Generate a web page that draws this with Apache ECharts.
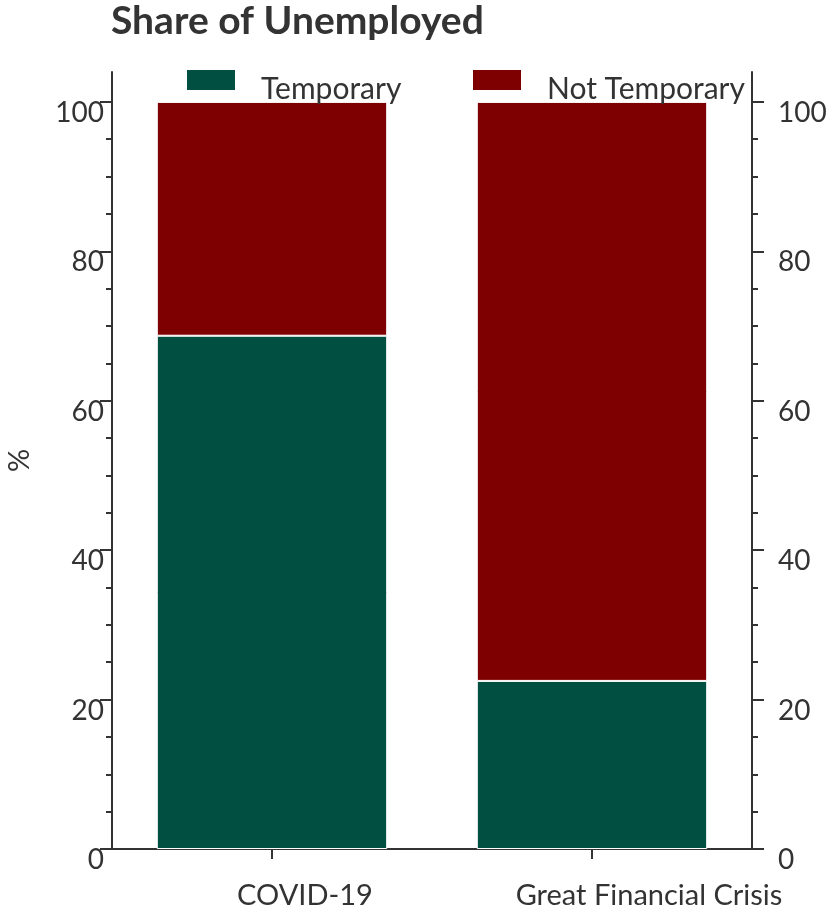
<!DOCTYPE html>
<html>
<head>
<meta charset="utf-8">
<script src="https://cdn.jsdelivr.net/npm/echarts@6/dist/echarts.min.js"></script>
<style>
  html, body { margin: 0; padding: 0; background: #fff; }
  #chart { width: 827px; height: 912px; }
</style>
</head>
<body>
<div id="chart"></div>
<script>
// data
const categories = ['COVID-19', 'Great Financial Crisis']
const temporary = [68.7, 22.5]
const notTemporary = [31.3, 77.5]
const majorTicks = [0, 20, 40, 60, 80, 100]
const minorTicks = [0, 5, 10, 15, 20, 25, 30, 35, 40, 45, 50, 55, 60, 65, 70, 75, 80, 85, 90, 95, 100]

const FONT = 'Lato'
const TXT = '#333333'
const AXIS = '#333333'
const GREEN = '#014f41'
const RED = '#7f0000'

const chart = echarts.init(document.getElementById('chart'), null, { renderer: 'canvas' })

// one y axis = line + labels + long ticks, a second one on the same side = short ticks
function yAxisPair(side) {
  const left = side === 'left'
  return [
    {
      type: 'value',
      position: side,
      min: 0,
      max: 104,
      interval: 20,
      name: left ? '%' : '',
      nameLocation: 'middle',
      nameGap: 78,
      nameRotate: 90,
      nameTextStyle: { fontFamily: FONT, fontSize: 29, color: TXT },
      axisLine: { show: true, lineStyle: { color: AXIS, width: 2 } },
      axisTick: { show: true, length: 12, customValues: majorTicks, lineStyle: { color: AXIS, width: 2 } },
      axisLabel: {
        show: true,
        customValues: majorTicks,
        margin: left ? 8 : 26,
        verticalAlign: 'top',
        lineHeight: 22,
        fontFamily: FONT,
        fontSize: 28,
        color: TXT,
      },
      splitLine: { show: false },
    },
    {
      type: 'value',
      position: side,
      min: 0,
      max: 104,
      interval: 20,
      axisLine: { show: false },
      axisTick: { show: true, length: 6, customValues: minorTicks, lineStyle: { color: AXIS, width: 2 } },
      axisLabel: { show: false },
      splitLine: { show: false },
    },
  ]
}

function legendAt(name, left) {
  return {
    data: [name],
    left: left,
    top: 68,
    padding: 0,
    itemWidth: 50,
    itemHeight: 22,
    icon: 'rect',
    formatter: '{t|{name}}',
    textStyle: {
      fontFamily: FONT,
      fontSize: 30,
      color: TXT,
      rich: { t: { fontFamily: FONT, fontSize: 30, color: TXT, padding: [18, 0, 0, 20] } },
    },
  }
}

chart.setOption({
  animation: false,
  backgroundColor: '#ffffff',
  title: {
    text: 'Share of Unemployed',
    left: 111,
    top: 2,
    padding: 0,
    textStyle: { fontFamily: FONT, fontSize: 39, fontWeight: 'bold', color: TXT },
  },
  legend: [legendAt('Temporary', 185), legendAt('Not Temporary', 471)],
  grid: { left: 112, right: 75, top: 72, bottom: 63, containLabel: false, outerBoundsMode: 'none' },
  xAxis: {
    type: 'category',
    data: categories,
    axisLine: { show: true, lineStyle: { color: AXIS, width: 2 } },
    axisTick: { show: true, length: 10, alignWithLabel: true, lineStyle: { color: AXIS, width: 2 } },
    axisLabel: {
      margin: 32,
      interval: 0,
      fontFamily: FONT,
      fontSize: 29,
      color: TXT,
      // the reference sets its category labels a bit right of the ticks
      formatter: (v, i) => (i === 0 ? '{a|' + v + '}' : '{b|' + v + '}'),
      rich: {
        a: { fontFamily: FONT, fontSize: 29, color: TXT, padding: [0, 0, 0, 66] },
        b: { fontFamily: FONT, fontSize: 29, color: TXT, padding: [0, 0, 0, 114] },
      },
    },
    splitLine: { show: false },
  },
  yAxis: [...yAxisPair('left'), ...yAxisPair('right')],
  series: [
    {
      name: 'Temporary',
      type: 'bar',
      stack: 'share',
      yAxisIndex: 0,
      barWidth: '72%',
      data: temporary,
      itemStyle: { color: GREEN, borderColor: '#ffffff', borderWidth: 1 },
    },
    {
      name: 'Not Temporary',
      type: 'bar',
      stack: 'share',
      yAxisIndex: 0,
      barWidth: '72%',
      data: notTemporary,
      itemStyle: { color: RED, borderColor: '#ffffff', borderWidth: 1 },
    },
  ],
})
</script>
</body>
</html>
